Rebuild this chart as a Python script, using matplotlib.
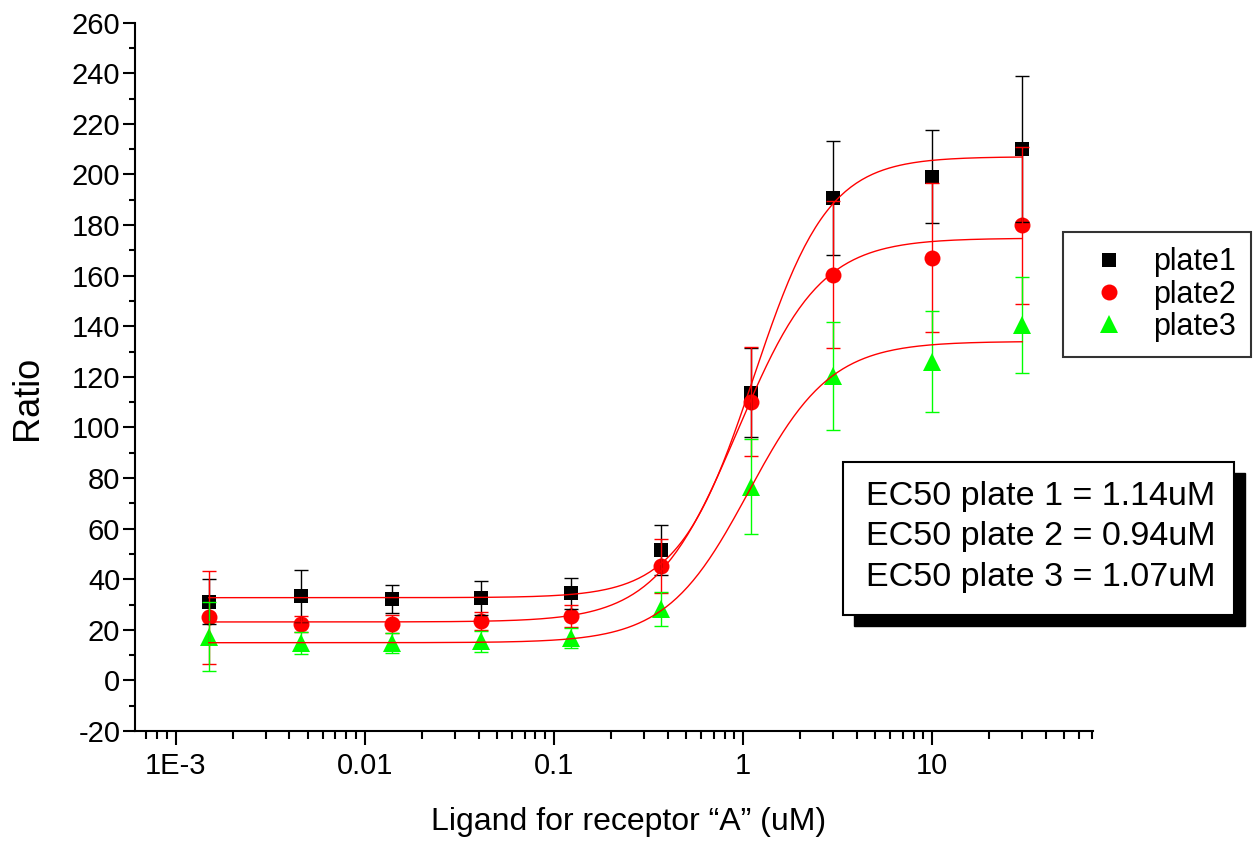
import matplotlib
matplotlib.use('Agg')
import matplotlib.pyplot as plt
from matplotlib.lines import Line2D
from matplotlib.patches import Rectangle
from matplotlib.ticker import FixedLocator, LogLocator, MultipleLocator, NullFormatter
import numpy as np

plt.rcParams['font.family'] = ['Liberation Sans', 'DejaVu Sans']
plt.rcParams['axes.unicode_minus'] = False

# concentrations (uM) and measured ratios
conc = [0.0015, 0.0046, 0.014, 0.041, 0.123, 0.37, 1.1, 3.0, 10.0, 30.0]

plate1 = [31.1, 33.4, 32.2, 32.6, 34.4, 51.5, 113.7, 190.8, 199.0, 210.0]
err1 = [9.0, 10.3, 5.5, 6.7, 6.0, 10.0, 17.5, 22.5, 18.4, 29.0]
plate2 = [24.9, 22.3, 22.3, 23.6, 25.5, 45.2, 110.2, 160.4, 167.1, 179.9]
err2 = [18.5, 3.2, 3.5, 3.5, 4.2, 10.5, 21.5, 29.0, 29.5, 31.0]
plate3 = [17.3, 14.9, 14.9, 15.4, 16.8, 28.1, 76.6, 120.3, 126.0, 140.6]
err3 = [13.5, 4.4, 4.0, 4.0, 4.0, 6.7, 18.7, 21.5, 20.0, 19.0]

# sigmoid fit parameters: bottom, top, EC50, hill
fit1 = (32.7, 207.0, 1.14, 2.2)
fit2 = (23.1, 174.8, 0.94, 2.0)
fit3 = (14.9, 134.0, 1.07, 2.0)

labels = ['plate1', 'plate2', 'plate3']
colors = ['#000000', '#ff0000', '#00ff00']
markers = ['s', 'o', '^']
msizes = [9.6, 11.5, 12.5]
ec50_lines = ['EC50 plate 1 = 1.14uM', 'EC50 plate 2 = 0.94uM', 'EC50 plate 3 = 1.07uM']

W, H = 1254, 842


def logistic(x, bottom, top, ec50, hill):
    return bottom + (top - bottom) / (1 + (ec50 / x) ** hill)


fig = plt.figure(figsize=(W / 100, H / 100), dpi=100)
ax = fig.add_axes([135 / W, 1 - 731 / H, (1093 - 135) / W, (731 - 22.6) / H])

xs = np.logspace(np.log10(conc[0]), np.log10(conc[-1]), 300)
series = [(plate1, err1, fit1), (plate2, err2, fit2), (plate3, err3, fit3)]
for (vals, errs, fit), c, m, ms in zip(series, colors, markers, msizes):
    ax.errorbar(conc, vals, yerr=errs, fmt='none', ecolor=c, elinewidth=1,
                capsize=4.7, capthick=1, zorder=2.5)
    ax.plot(conc, vals, linestyle='none', marker=m, color=c, markersize=ms,
            markeredgewidth=0, zorder=2)
    ax.plot(xs, logistic(xs, *fit), color='#ff0000', lw=1, zorder=3)

ax.set_xscale('log')
ax.set_xlim(6.1e-4, 71)
ax.set_ylim(-20, 260)

ax.xaxis.set_major_locator(FixedLocator([1e-3, 1e-2, 1e-1, 1, 10]))
ax.set_xticklabels(['1E-3', '0.01', '0.1', '1', '10'])
ax.xaxis.set_minor_locator(LogLocator(base=10, subs=np.arange(2, 10)))
ax.xaxis.set_minor_formatter(NullFormatter())
ax.yaxis.set_major_locator(MultipleLocator(20))
ax.yaxis.set_minor_locator(MultipleLocator(10))

for s in ['top', 'right']:
    ax.spines[s].set_visible(False)
for s in ['left', 'bottom']:
    ax.spines[s].set_linewidth(1.5)

ax.tick_params(axis='x', which='major', length=10, width=1.5, labelsize=21, pad=5)
ax.tick_params(axis='x', which='minor', length=5.8, width=1.5)
ax.tick_params(axis='y', which='major', length=8.6, width=1.5, labelsize=21, pad=2)
ax.tick_params(axis='y', which='minor', length=4.3, width=1.5)

fig.text(28 / W, 1 - 398 / H, 'Ratio', rotation=90, ha='center', va='center', fontsize=26)
fig.text(629 / W, 1 - 822 / H, 'Ligand for receptor \u201cA\u201d (uM)', ha='center',
         va='center', fontsize=23)

# legend
handles = [Line2D([], [], linestyle='none', marker=m, color=c, markersize=ms,
                  markeredgewidth=0)
           for m, c, ms in zip(markers, colors, msizes)]
leg = fig.legend(handles, labels, loc='upper left', bbox_to_anchor=(1063 / W, 1 - 232 / H),
                 fontsize=22, frameon=True, fancybox=False, borderaxespad=0,
                 borderpad=0.5, handlelength=2.0, handletextpad=0.45, labelspacing=0.08)
leg.get_frame().set_edgecolor('black')
leg.get_frame().set_linewidth(1.5)

# EC50 box with drop shadow
bx0, by0, bx1, by1 = 843, 462, 1234, 615
off = 11
fig.add_artist(Rectangle(((bx0 + off) / W, 1 - (by1 + off) / H), (bx1 - bx0) / W,
                         (by1 - by0) / H, transform=fig.transFigure,
                         facecolor='black', edgecolor='black', zorder=5))
fig.add_artist(Rectangle((bx0 / W, 1 - by1 / H), (bx1 - bx0) / W, (by1 - by0) / H,
                         transform=fig.transFigure, facecolor='white',
                         edgecolor='black', lw=1.5, zorder=6))
fig.text(866 / W, 1 - 537 / H, '\n'.join(ec50_lines), ha='left', va='center',
         fontsize=24.5, linespacing=1.38, zorder=7)

fig.savefig('out.png', dpi=100)
